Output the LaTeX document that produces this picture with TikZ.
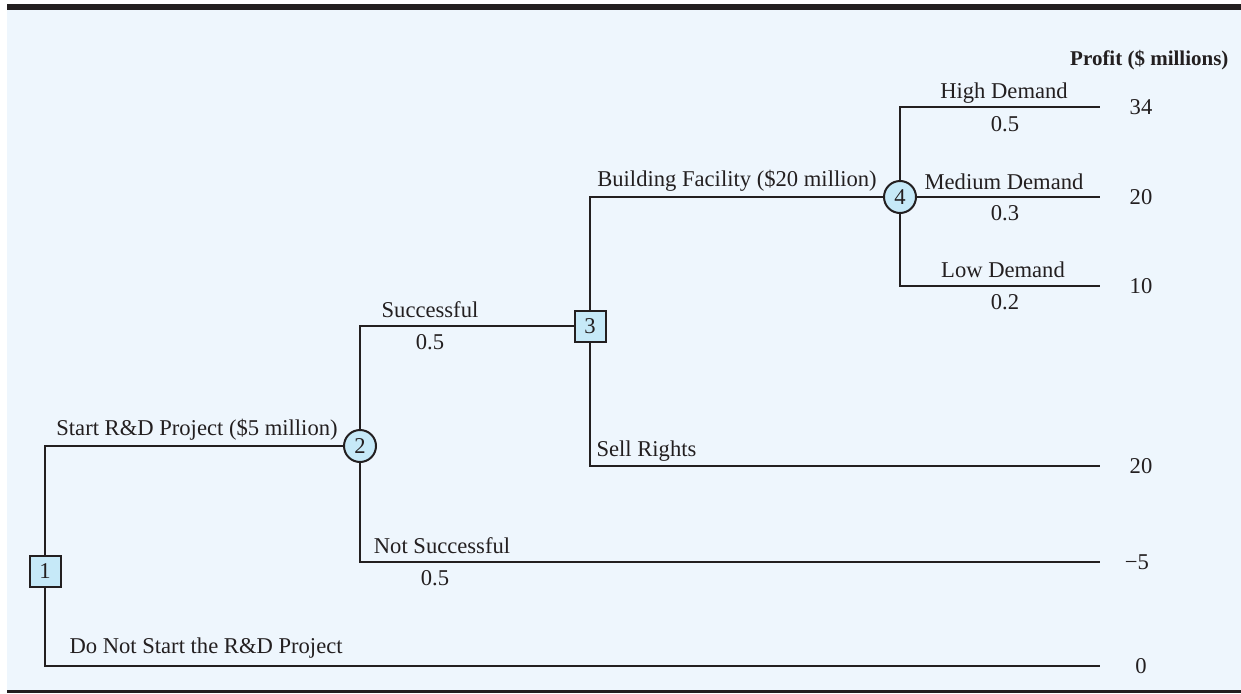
\documentclass[tikz,border=0pt]{standalone}
\usepackage{fontspec}
\setmainfont{Liberation Serif}
\usepackage{xcolor}
\definecolor{treebg}{HTML}{EEF6FD}
\definecolor{treefill}{HTML}{C6E9F8}
\definecolor{treeink}{HTML}{231F20}
\usetikzlibrary{positioning}

\begin{document}
\begin{tikzpicture}[x=1pt, y=-1pt, font=\fontsize{22.6}{26}\selectfont,
  every node/.style={text=treeink},
  branch/.style={draw=treeink, line width=2pt},
  decision/.style={draw=treeink, fill=treefill, line width=2pt,
                   minimum size=31pt, inner sep=0pt},
  chance/.style={circle, draw=treeink, fill=treefill, line width=2pt,
                 minimum size=32pt, inner sep=0pt},
  payoff/.style={anchor=center}]
  \useasboundingbox (0,0) rectangle (1241,693);
  \fill[treebg] (7,10) rectangle (1241,691);
  \fill[treeink] (7,4) rectangle (1241,10);
  \fill[treeink] (7,690) rectangle (1241,693);

  % decision and chance nodes
  \node[decision] (d1) at (45,571) {1};
  \node[chance]   (c2) at (360,446) {2};
  \node[decision] (d3) at (590,326) {3};
  \node[chance]   (c4) at (900,197) {4};

  % ends of the branches
  \coordinate (e34) at (1100,107);
  \coordinate (e20a) at (1100,197);
  \coordinate (e10) at (1100,286);
  \coordinate (e20b) at (1100,466);
  \coordinate (e5) at (1100,562);
  \coordinate (e0) at (1100,666);

  \draw[branch] (d1.north) |- (c2.west);
  \draw[branch] (d1.south) |- (e0);
  \draw[branch] (c2.north) |- (d3.west);
  \draw[branch] (c2.south) |- (e5);
  \draw[branch] (d3.north) |- (c4.west);
  \draw[branch] (d3.south) |- (e20b);
  \draw[branch] (c4.north) |- (e34);
  \draw[branch] (c4.east) -- (e20a);
  \draw[branch] (c4.south) |- (e10);

  % branch labels
  \node (lstart) at (197,430) {Start R\&D Project (\$5 million)};
  \node[anchor=west] (lnostart) at (66,648) {Do Not Start the R\&D Project};
  \node (lsucc) at (430,310) {Successful};
  \node (psucc) at (430,342) {0.5};
  \node (lfail) at (442,546) {Not Successful};
  \node (pfail) at (435,578) {0.5};
  \node (lbuild) at (737,181) {Building Facility (\$20 million)};
  \node[anchor=west] (lsell) at (593,451) {Sell Rights};
  \node (lhigh) at (1004,93) {High Demand};
  \node (phigh) at (1005,124) {0.5};
  \node (lmed) at (1004,182) {Medium Demand};
  \node (pmed) at (1005,213) {0.3};
  \node (llow) at (1003,270) {Low Demand};
  \node (plow) at (1005,302) {0.2};

  % profits
  \node[anchor=east, font=\fontsize{21}{25}\selectfont\bfseries] (profit) at (1232,60) {Profit (\$ millions)};
  \node[payoff] (v34) at (1141,107) {34};
  \node[payoff] (v20a) at (1141,197) {20};
  \node[payoff] (v10) at (1141,286) {10};
  \node[payoff] (v20b) at (1141,466) {20};
  \node[payoff] (v5) at (1137,562) {−5};
  \node[payoff] (v0) at (1141,666) {0};
\end{tikzpicture}
\end{document}
